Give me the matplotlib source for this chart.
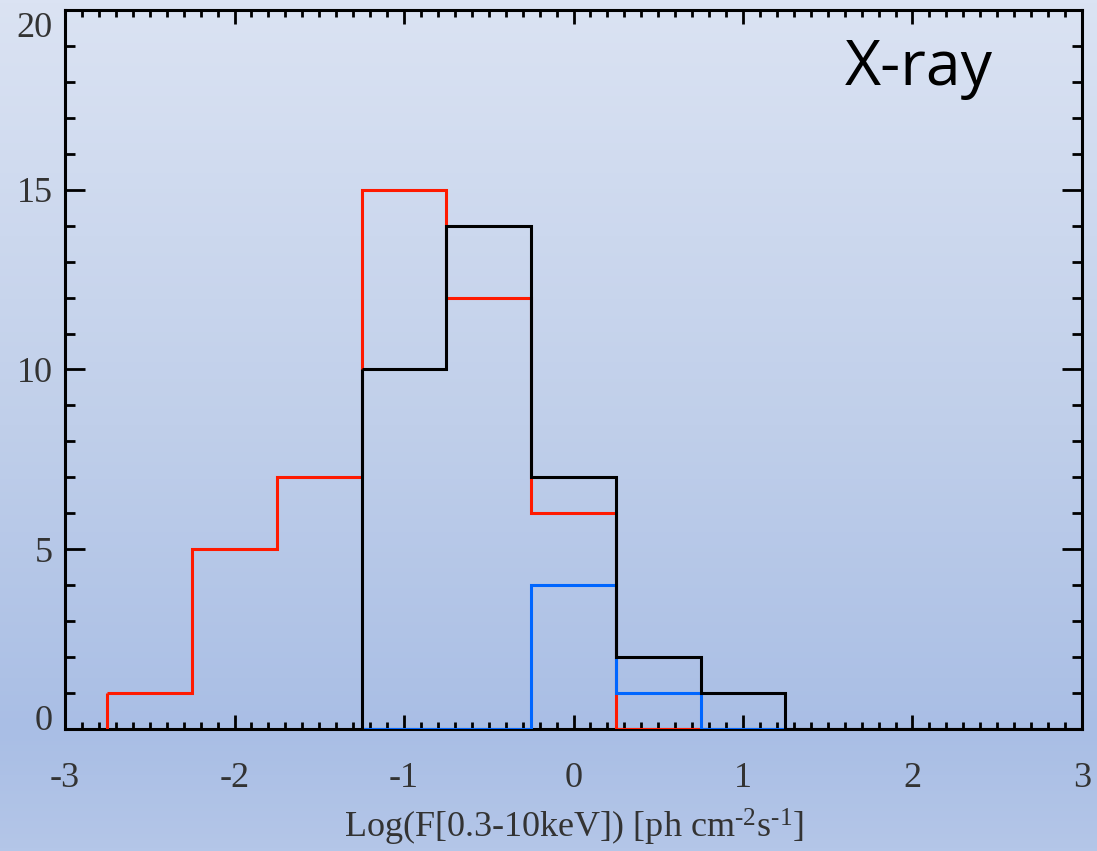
import numpy as np
import matplotlib
matplotlib.use("Agg")
import matplotlib.pyplot as plt
from matplotlib.colors import LinearSegmentedColormap
from matplotlib.ticker import MultipleLocator
import matplotlib.transforms as mtransforms

# bin edges and counts of the three samples
red_edges = [-2.75, -2.25, -1.75, -1.25, -0.75, -0.25, 0.25, 0.75]
red_counts = [1, 5, 7, 15, 12, 6, 0]

blue_edges = [-1.25, -0.75, -0.25, 0.25, 0.75, 1.25]
blue_counts = [0, 0, 4, 1, 0]

black_edges = [-1.25, -0.75, -0.25, 0.25, 0.75, 1.25, 1.75, 2.25, 2.75, 3.0]
black_counts = [10, 14, 7, 2, 1, 0, 0, 0, 0]

x_ticks = [-3, -2, -1, 0, 1, 2, 3]
y_ticks = [0, 5, 10, 15, 20]

plt.rcParams['font.family'] = ['Liberation Serif', 'DejaVu Serif']
plt.rcParams['mathtext.fontset'] = 'custom'
plt.rcParams['mathtext.rm'] = 'Liberation Serif'
plt.rcParams['mathtext.it'] = 'Liberation Serif:italic'
plt.rcParams['axes.unicode_minus'] = False

fig = plt.figure(figsize=(10.97, 8.51), dpi=100)

# soft blue gradient behind everything
bg = fig.add_axes([0, 0, 1, 1], zorder=-10)
cmap = LinearSegmentedColormap.from_list(
    "bg", [(0.0, "#dbe3f3"), (0.5, "#c0cfea"), (0.86, "#a9bee5"), (1.0, "#b4c6e8")])
grad = np.linspace(0, 1, 256).reshape(-1, 1)
bg.imshow(grad, aspect="auto", cmap=cmap, extent=[0, 1, 0, 1])
bg.axis("off")

ax = fig.add_axes([0.0593, 0.1434, 0.9270, 0.8449])
ax.set_facecolor("none")

lw = 2.2
ax.stairs(red_counts, red_edges, color="#ff1a00", lw=lw, baseline=None, zorder=3)
ax.vlines(red_edges[0], 0, red_counts[0], color="#ff1a00", lw=lw, zorder=3)
ax.stairs(blue_counts, blue_edges, color="#0066ff", lw=lw, baseline=None, zorder=4)
ax.stairs(black_counts, black_edges, color="black", lw=lw, baseline=None, zorder=5)
ax.vlines(black_edges[0], 0, black_counts[0], color="black", lw=lw, zorder=5)

ax.set_xlim(-3, 3)
ax.set_ylim(0, 20)

for s in ax.spines.values():
    s.set_linewidth(2.2)
    s.set_zorder(2)

ax.set_xticks(x_ticks)
ax.set_yticks(y_ticks)
ax.xaxis.set_minor_locator(MultipleLocator(0.1))
ax.yaxis.set_minor_locator(MultipleLocator(1))
ax.tick_params(which="both", direction="in", top=True, right=True, width=2,
               colors="black", labelcolor="#333333", labelsize=26)
ax.tick_params(axis="x", which="major", length=10, pad=24)
ax.tick_params(axis="x", which="minor", length=5)
ax.tick_params(axis="y", which="major", length=14.4, pad=9)
ax.tick_params(axis="y", which="minor", length=7.2)

ax.set_xticklabels([str(v) for v in x_ticks])

# end labels of the y axis are nudged inward
ax.set_yticklabels([str(v) for v in y_ticks])
ylabels = ax.get_yticklabels()
shift_up = mtransforms.ScaledTranslation(0, 11 / 100, fig.dpi_scale_trans)
shift_down = mtransforms.ScaledTranslation(0, -15 / 100, fig.dpi_scale_trans)
ylabels[0].set_transform(ylabels[0].get_transform() + shift_up)
ylabels[-1].set_transform(ylabels[-1].get_transform() + shift_down)

ax.set_xlabel(r"Log(F[0.3-10keV]) [ph cm$^{\text{-2}}$s$^{\text{-1}}$]",
              fontsize=26, color="#333333", labelpad=8)

ax.text(0.8397, 0.8957, "X-ray", transform=ax.transAxes, ha="center", va="baseline",
        fontsize=45, family="Open Sans", color="black")

fig.savefig("out.png", dpi=100)
